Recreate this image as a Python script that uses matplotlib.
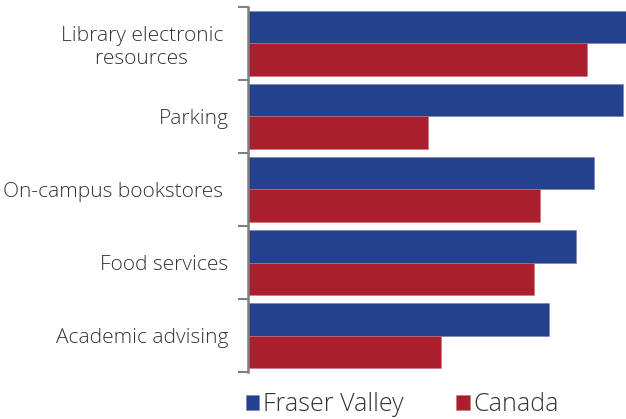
import matplotlib
matplotlib.use("Agg")
import matplotlib.pyplot as plt
import numpy as np

categories = ["Library electronic \nresources ", "Parking", "On-campus bookstores ", "Food services", "Academic advising"]
fraser_valley = [100.0, 99.2, 91.5, 86.8, 79.6]
canada = [89.7, 47.6, 77.2, 75.7, 51.1]
series_names = ["Fraser Valley", "Canada"]

blue = "#24418d"
red = "#a91f2e"

plt.rcParams['font.family'] = ['Open Sans', 'DejaVu Sans']

fig = plt.figure(figsize=(6.26, 4.19), dpi=100)
ax = fig.add_axes([248/626, 1-372/419, 1-248/626, (372-7)/419])

y = np.arange(len(categories))
h = 0.452
ax.barh(y - h/2, fraser_valley, height=h, color=blue, edgecolor='#6f7fb0', linewidth=0.4, label=series_names[0])
ax.barh(y + h/2, canada, height=h, color=red, edgecolor='#c8707a', linewidth=0.4, label=series_names[1])

ax.set_xlim(0, 100)
ax.set_ylim(len(categories)-0.5, -0.5)
ax.set_yticks(y)
ax.set_yticklabels(categories, fontsize=15, color='#333333', fontweight='light', linespacing=1.2)
ax.set_yticks(np.arange(-0.5, len(categories)), minor=True)
ax.tick_params(axis='y', which='major', length=0, pad=14)
ax.tick_params(axis='y', which='minor', length=7, width=1.5, color='#808080')
ax.set_xticks([])
for s in ['top', 'right', 'bottom']:
    ax.spines[s].set_visible(False)
ax.spines['left'].set_color('#808080')
ax.spines['left'].set_linewidth(1.8)
for lab in ax.get_yticklabels():
    lab.set_horizontalalignment('right')
    lab.set_multialignment('center')

leg = fig.legend(loc='lower left', bbox_to_anchor=(223/626, -0.05), ncol=2, frameon=False,
           handlelength=0.55, handleheight=0.55, handletextpad=0.15,
           columnspacing=2.1, prop={'family': ['Open Sans', 'DejaVu Sans'], 'size': 18, 'weight': 'light'})
for t in leg.get_texts():
    t.set_color('#333333')

fig.savefig("out.png", dpi=100)
